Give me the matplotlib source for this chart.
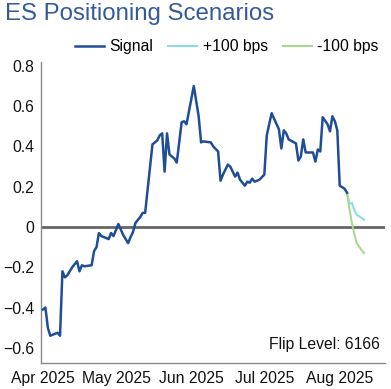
import pandas as pd
import matplotlib.pyplot as plt
import matplotlib.dates as mdates
from matplotlib.ticker import FuncFormatter

plt.rcParams['font.family'] = ['Liberation Sans', 'DejaVu Sans']

# sinal observado
sinal_datas = [
    "2025-04-01", "2025-04-02", "2025-04-03", "2025-04-04", "2025-04-06", "2025-04-07",
    "2025-04-08", "2025-04-09", "2025-04-10", "2025-04-11", "2025-04-13", "2025-04-15",
    "2025-04-16", "2025-04-17", "2025-04-18", "2025-04-21", "2025-04-22", "2025-04-23",
    "2025-04-24", "2025-04-25", "2025-04-28", "2025-04-29", "2025-04-30", "2025-05-02",
    "2025-05-04", "2025-05-06", "2025-05-07", "2025-05-08", "2025-05-09", "2025-05-11",
    "2025-05-12", "2025-05-13", "2025-05-16", "2025-05-18", "2025-05-19", "2025-05-20",
    "2025-05-21", "2025-05-22", "2025-05-23", "2025-05-25", "2025-05-26", "2025-05-28",
    "2025-05-29", "2025-05-30", "2025-06-02", "2025-06-04", "2025-06-05", "2025-06-06",
    "2025-06-09", "2025-06-10", "2025-06-12", "2025-06-13", "2025-06-14", "2025-06-16",
    "2025-06-17", "2025-06-19", "2025-06-20", "2025-06-21", "2025-06-23", "2025-06-24",
    "2025-06-25", "2025-06-26", "2025-06-27", "2025-06-29", "2025-07-01", "2025-07-02",
    "2025-07-04", "2025-07-07", "2025-07-08", "2025-07-09", "2025-07-10", "2025-07-11",
    "2025-07-14", "2025-07-15", "2025-07-16", "2025-07-17", "2025-07-18", "2025-07-21",
    "2025-07-22", "2025-07-23", "2025-07-24", "2025-07-25", "2025-07-27", "2025-07-28",
    "2025-07-29", "2025-07-30", "2025-07-31", "2025-08-01", "2025-08-03", "2025-08-04",
]
sinal = [
    -0.41, -0.40, -0.50, -0.54, -0.53, -0.525,
    -0.54, -0.22, -0.25, -0.24, -0.20, -0.17,
    -0.22, -0.19, -0.195, -0.19, -0.12, -0.10,
    -0.03, -0.045, -0.06, -0.03, -0.045, 0.015,
    -0.04, -0.08, -0.05, -0.025, 0.02, 0.05,
    0.07, 0.07, 0.41, 0.43, 0.455, 0.465,
    0.275, 0.465, 0.36, 0.34, 0.32, 0.52,
    0.525, 0.51, 0.70, 0.55, 0.42, 0.425,
    0.42, 0.40, 0.375, 0.23, 0.26, 0.31,
    0.30, 0.25, 0.27, 0.235, 0.205, 0.225,
    0.22, 0.24, 0.225, 0.235, 0.26, 0.455,
    0.565, 0.485, 0.39, 0.48, 0.465, 0.435,
    0.415, 0.33, 0.35, 0.435, 0.37, 0.37,
    0.325, 0.385, 0.375, 0.545, 0.51, 0.475,
    0.55, 0.525, 0.48, 0.205, 0.19, 0.17,
]

# cenarios de juros
cenario_datas = ["2025-08-04", "2025-08-05", "2025-08-06", "2025-08-07",
                 "2025-08-08", "2025-08-10", "2025-08-11"]
mais100 = [0.17, 0.115, 0.12, 0.085, 0.06, 0.045, 0.035]
menos100 = [0.17, 0.09, 0.02, -0.035, -0.08, -0.115, -0.13]

flip = 6166

sinal_datas = pd.to_datetime(sinal_datas)
cenario_datas = pd.to_datetime(cenario_datas)

fs = 11.3

fig = plt.figure(figsize=(3.91, 3.89), dpi=100)
ax = fig.add_axes([0.105, 0.067, 0.88, 0.774])

ax.axhline(0, color='#666666', lw=2, zorder=1)
ax.plot(sinal_datas, sinal, color='#1f4e96', lw=1.8, label='Signal', zorder=3)
ax.plot(cenario_datas, mais100, color='#86dbe8', lw=1.4, label='+100 bps', zorder=2)
ax.plot(cenario_datas, menos100, color='#a3d98a', lw=1.4, label='-100 bps', zorder=2)

ax.set_xlim(pd.Timestamp('2025-03-31 05:00'), pd.Timestamp('2025-08-19 16:00'))
ax.set_ylim(-0.675, 0.82)
ax.set_yticks([-0.6, -0.4, -0.2, 0, 0.2, 0.4, 0.6, 0.8])
ax.yaxis.set_major_formatter(FuncFormatter(lambda v, p: f"{v:g}".replace('-', '\u2212')))
ax.xaxis.set_major_locator(mdates.MonthLocator())
ax.xaxis.set_major_formatter(mdates.DateFormatter('%b %Y'))
ax.tick_params(length=0, labelsize=fs, colors='#111111', pad=6)
ax.tick_params(axis='y', pad=5)

for s in ['top', 'right']:
    ax.spines[s].set_visible(False)
for s in ['left', 'bottom']:
    ax.spines[s].set_color('#888888')
    ax.spines[s].set_linewidth(1)

ax.text(0.985, 0.035, f'Flip Level: {flip}', transform=ax.transAxes,
        ha='right', va='bottom', fontsize=fs, color='#111111')

fig.text(0.013, 0.965, 'ES Positioning Scenarios', fontsize=17.3,
         color='#345a9c', ha='left', va='center')
fig.legend(loc='center right', bbox_to_anchor=(0.985, 1 - 47 / 389), ncol=3,
           frameon=False, fontsize=fs, handlelength=1.85, columnspacing=0.95,
           handletextpad=0.35, borderaxespad=0)

fig.savefig('out.png', dpi=100)
